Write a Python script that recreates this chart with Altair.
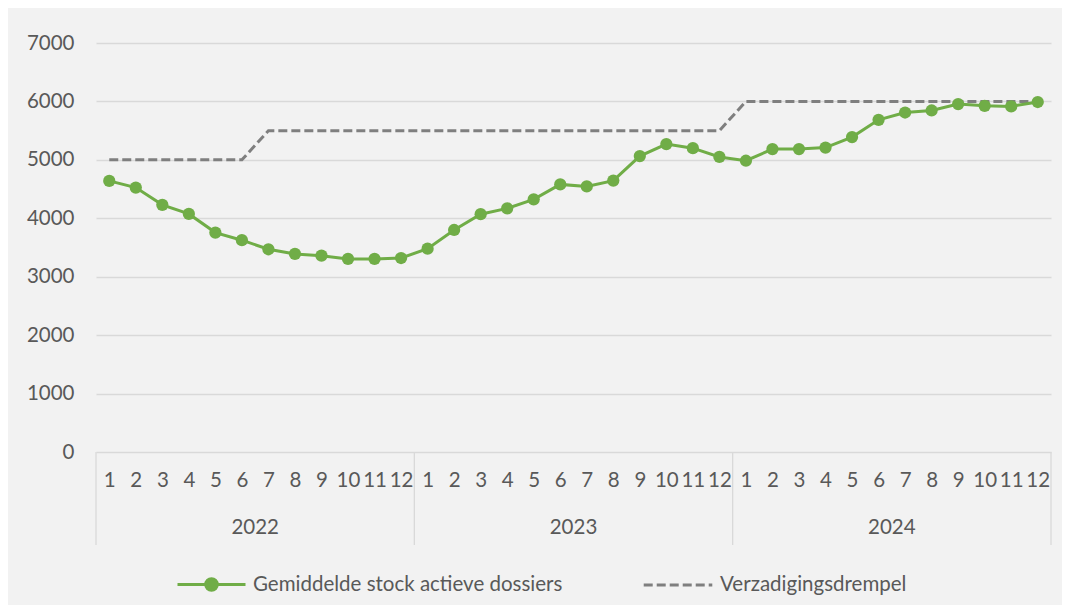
import altair as alt
import pandas as pd

years = ["2022", "2023", "2024"]
months = list(range(1, 13))
stock = [
    4640, 4525, 4230, 4075, 3755, 3625, 3470, 3390, 3360, 3305, 3305, 3320,
    3480, 3800, 4070, 4170, 4325, 4580, 4545, 4645, 5065, 5270, 5200, 5050,
    4985, 5185, 5185, 5210, 5390, 5685, 5810, 5845, 5955, 5925, 5915, 5990,
]
threshold = [
    5000, 5000, 5000, 5000, 5000, 5000, 5500, 5500, 5500, 5500, 5500, 5500,
    5500, 5500, 5500, 5500, 5500, 5500, 5500, 5500, 5500, 5500, 5500, 5500,
    6000, 6000, 6000, 6000, 6000, 6000, 6000, 6000, 6000, 6000, 6000, 6000,
]
s1 = "Gemiddelde stock actieve dossiers"
s2 = "Verzadigingsdrempel"

rows = []
for i, (v, t) in enumerate(zip(stock, threshold)):
    rows.append({"idx": i, "year": years[i // 12], "month": months[i % 12],
                 "stock": v, "threshold": t, "s1": s1, "s2": s2})
df = pd.DataFrame(rows)

year_df = pd.DataFrame({"year": years, "mid": [5.5 + 12 * k for k in range(len(years))]})
sep_df = pd.DataFrame({"pos": [-0.5 + 12 * k for k in range(len(years) + 1)]})

W, H = 955, 409
FONT = "Lato"
FS = 20.5
LBL = "#595959"
GREEN = "#70ad47"
GRAY = "#7f7f7f"

xscale = alt.Scale(domain=[-0.5, 35.5], nice=False, zero=False)
xaxis = alt.Axis(values=list(range(36)), labelExpr="(datum.value % 12) + 1",
                 grid=False, domain=False, ticks=False, tickSize=0, labelOverlap=False,
                 labelBound=False, labelFlush=False,
                 labelPadding=18, labelFontSize=FS, labelColor=LBL, labelFont=FONT,
                 title=None, labelAngle=0)
yscale = alt.Scale(domain=[0, 7000], nice=False)
yaxis = alt.Axis(values=list(range(0, 7001, 1000)), format="d", grid=True, gridColor="#d9d9d9",
                 gridWidth=1.3, domain=False, ticks=False, labelPadding=22,
                 labelFontSize=FS, labelColor=LBL, labelFont=FONT, title=None)

seps = alt.Chart(sep_df).mark_rule(color="#d9d9d9", strokeWidth=1.3).encode(
    x=alt.X("pos:Q", scale=xscale, axis=xaxis),
    y=alt.value(H),
    y2=alt.value(H + 93),
)

base = alt.Chart(df)

thr = base.mark_line(strokeWidth=3, color=GRAY, interpolate="linear").encode(
    x=alt.X("idx:Q", scale=xscale, axis=xaxis),
    y=alt.Y("threshold:Q", scale=yscale, axis=yaxis),
    strokeDash=alt.StrokeDash("s2:N", scale=alt.Scale(domain=[s2], range=[[9, 4]]),
                              legend=alt.Legend(title=None, orient="none", legendX=546, legendY=506,
                                                symbolType="stroke", symbolSize=4700,
                                                symbolStrokeColor=GRAY, symbolStrokeWidth=3,
                                                labelFontSize=FS, labelColor=LBL, labelFont=FONT,
                                                labelOffset=6, labelLimit=0)),
)

green_legend = alt.Legend(title=None, orient="none", legendX=80, legendY=506,
                          symbolType="M-1,0H1M-0.17,0A0.17,0.17 0 1,1 0.17,0A0.17,0.17 0 1,1 -0.17,0Z",
                          symbolSize=4624, symbolStrokeWidth=3, symbolFillColor=GREEN,
                          labelFontSize=FS, labelColor=LBL, labelFont=FONT, labelOffset=6,
                          labelLimit=0)
cscale = alt.Scale(domain=[s1], range=[GREEN])

line = base.mark_line(strokeWidth=3).encode(
    x=alt.X("idx:Q", scale=xscale, axis=xaxis),
    y=alt.Y("stock:Q", scale=yscale, axis=yaxis),
    color=alt.Color("s1:N", scale=cscale, legend=green_legend),
)
pts = base.mark_circle(size=150, opacity=1).encode(
    x=alt.X("idx:Q", scale=xscale, axis=xaxis),
    y=alt.Y("stock:Q", scale=yscale, axis=yaxis),
    color=alt.Color("s1:N", scale=cscale, legend=green_legend),
)

ylabels = alt.Chart(year_df).mark_text(fontSize=FS, color=LBL, font=FONT, baseline="middle").encode(
    x=alt.X("mid:Q", scale=xscale, axis=xaxis),
    y=alt.value(H + 76),
    text="year:N",
)

chart = alt.layer(seps, thr, line, pts, ylabels).properties(
    width=W, height=H,
    autosize=alt.AutoSizeParams(type="none"),
    padding={"left": 88, "top": 35, "right": 11, "bottom": 153},
    background="#f2f2f2",
).configure_view(stroke=None).configure_axisX(labelOverlap=False)

chart.save("out.html", embed_options={"renderer": "svg", "actions": False})
